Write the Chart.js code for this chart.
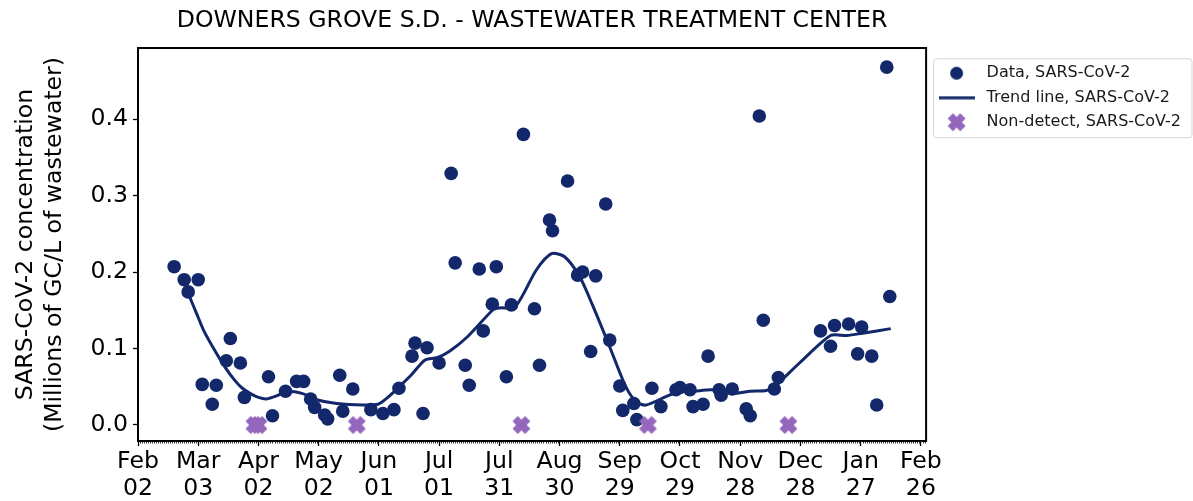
<!DOCTYPE html>
<html>
<head>
<meta charset="utf-8">
<title>Downers Grove S.D. - SARS-CoV-2</title>
<script src="https://cdn.jsdelivr.net/npm/chart.js@4.4.1/dist/chart.umd.min.js"></script>
<style>
  html, body { margin: 0; padding: 0; background: #fff; }
  canvas { display: block; }
</style>
</head>
<body>
<canvas id="wastewaterChart" width="1193" height="501"></canvas>
<script>
// x values are days counted from 2024-02-02
var sampleDays = [18, 23, 25, 30, 32, 37, 39, 44, 46, 51, 53, 65, 67, 73.5, 79, 82.5, 86, 88, 93, 94.5,
  100.5, 102, 107, 116, 122, 127.5, 130, 136.5, 138, 142, 144, 150, 156, 158, 163, 165, 170, 172, 176.5, 178.5,
  183.5, 186, 192, 197.5, 200, 205, 206.5, 214, 219, 221.5, 225.5, 228, 233, 235, 240, 241.5, 247, 248.5, 256, 260.5,
  268, 270, 275, 276.5, 281.5, 284, 289.5, 290.5, 296, 303, 305, 309.5, 311.5, 317, 319, 340, 345, 347, 354, 358.5,
  360.5, 365.5, 368, 373, 374.5];
var sampleValues = [0.207, 0.190, 0.174, 0.190, 0.053, 0.027, 0.052, 0.084, 0.113, 0.081, 0.036, 0.063, 0.012, 0.044, 0.057, 0.057, 0.034, 0.023, 0.013, 0.008,
  0.065, 0.018, 0.047, 0.020, 0.015, 0.020, 0.048, 0.090, 0.107, 0.015, 0.101, 0.081, 0.329, 0.212, 0.078, 0.052, 0.204, 0.123, 0.158, 0.207,
  0.063, 0.157, 0.380, 0.152, 0.078, 0.268, 0.254, 0.319, 0.196, 0.200, 0.096, 0.195, 0.289, 0.111, 0.051, 0.019, 0.028, 0.007, 0.048, 0.024,
  0.046, 0.049, 0.046, 0.024, 0.027, 0.090, 0.046, 0.039, 0.047, 0.021, 0.012, 0.404, 0.137, 0.047, 0.062, 0.123, 0.103, 0.130, 0.132, 0.093,
  0.128, 0.090, 0.026, 0.468, 0.168];

var trendDays = [25, 29, 33, 39, 43.5, 48, 52, 56, 60, 64, 69, 74, 82, 89, 99, 112, 119.5, 124, 130.5, 136,
  143, 149, 155, 164, 177, 180, 188, 198.5, 206, 212.5, 220, 226.7, 235, 243, 248.3, 253, 263, 270, 276, 286,
  296, 305, 313, 317, 329.5, 345, 353, 361, 375];
var trendValues = [0.172, 0.147, 0.122, 0.094, 0.075, 0.059, 0.048, 0.041, 0.036, 0.034, 0.038, 0.044, 0.041, 0.033, 0.028, 0.026, 0.027, 0.035, 0.051, 0.065,
  0.085, 0.088, 0.096, 0.115, 0.151, 0.153, 0.155, 0.203, 0.224, 0.220, 0.194, 0.155, 0.102, 0.050, 0.030, 0.026, 0.037, 0.044, 0.044, 0.046,
  0.041, 0.044, 0.045, 0.050, 0.081, 0.117, 0.117, 0.120, 0.126];

var nonDetectDays = [58, 60, 109, 191, 254, 324];
var nonDetectValues = [0, 0, 0, 0, 0, 0];

var xTickDays = [0, 30, 60, 90, 120, 150, 180, 210, 240, 270, 300, 330, 360, 390];
var xTickLabels = [['Feb', '02'], ['Mar', '03'], ['Apr', '02'], ['May', '02'], ['Jun', '01'], ['Jul', '01'], ['Jul', '31'],
  ['Aug', '30'], ['Sep', '29'], ['Oct', '29'], ['Nov', '28'], ['Dec', '28'], ['Jan', '27'], ['Feb', '26']];
var yTickValues = [0, 0.1, 0.2, 0.3, 0.4];

var navy = '#13286a';
var purple = '#9467bd';
var fontFamily = "'DejaVu Sans', sans-serif";

function toPoints(xs, ys) {
  return xs.map(function(x, i) { return { x: x, y: ys[i] }; });
}

// little marker images (used for the legend and for the X marker)
function makeDot(r) {
  var c = document.createElement('canvas');
  c.width = c.height = r * 2 + 2;
  var g = c.getContext('2d');
  g.fillStyle = navy;
  g.beginPath();
  g.arc(r + 1, r + 1, r, 0, Math.PI * 2);
  g.fill();
  return c;
}
function makeLine(w) {
  var c = document.createElement('canvas');
  c.width = w; c.height = 4;
  var g = c.getContext('2d');
  g.strokeStyle = navy;
  g.lineWidth = 3;
  g.beginPath();
  g.moveTo(0, 2); g.lineTo(w, 2);
  g.stroke();
  return c;
}
function makeX(s) {
  var c = document.createElement('canvas');
  c.width = c.height = s;
  var g = c.getContext('2d');
  g.strokeStyle = purple;
  g.lineWidth = s * 0.36;
  g.lineCap = 'butt';
  var a = s * 0.2, b = s * 0.8;
  g.beginPath();
  g.moveTo(a, a); g.lineTo(b, b);
  g.moveTo(b, a); g.lineTo(a, b);
  g.stroke();
  return c;
}
var dotMark = makeDot(6.5);
var lineMark = makeLine(36);
var xMark = makeX(21);
var legendMarks = [dotMark, lineMark, xMark];

var framePlugin = {
  id: 'frame',
  beforeDraw: function(chart) {
    var lg = chart.legend;
    if (!lg || !lg.legendHitBoxes || !lg.legendHitBoxes.length) return;
    var hb = lg.legendHitBoxes;
    var first = hb[0], last = hb[hb.length - 1];
    var x0 = lg.left + 7, x1 = chart.width - 1.5;
    var y0 = first.top + first.height / 2 - 15;
    var y1 = last.top + last.height / 2 + 15;
    var ctx = chart.ctx;
    ctx.save();
    ctx.fillStyle = '#fff';
    ctx.strokeStyle = '#d6d6d6';
    ctx.lineWidth = 1;
    ctx.beginPath();
    ctx.roundRect(x0 + 0.5, y0 + 0.5, x1 - x0, y1 - y0, 3);
    ctx.fill();
    ctx.stroke();
    ctx.restore();
  },
  afterDraw: function(chart) {
    var a = chart.chartArea, ctx = chart.ctx, xs = chart.scales.x;
    ctx.save();
    // minor day ticks on the x axis
    ctx.strokeStyle = '#000';
    ctx.lineWidth = 0.8;
    ctx.beginPath();
    for (var d = 1; d < xs.max; d++) {
      if (d % 30 === 0) continue;
      var px = Math.round(xs.getPixelForValue(d)) + 0.5;
      ctx.moveTo(px, a.bottom);
      ctx.lineTo(px, a.bottom + 2.5);
    }
    ctx.stroke();
    ctx.lineWidth = 2;
    ctx.strokeRect(a.left, a.top, a.right - a.left, a.bottom - a.top);
    ctx.restore();
  }
};

var ctx = document.getElementById('wastewaterChart').getContext('2d');
var chart = new Chart(ctx, {
  type: 'scatter',
  data: {
    datasets: [
      {
        label: 'Data, SARS-CoV-2',
        data: toPoints(sampleDays, sampleValues),
        backgroundColor: navy,
        borderWidth: 0,
        pointRadius: 6.8,
        pointStyle: 'circle',
        order: 3
      },
      {
        label: 'Trend line, SARS-CoV-2',
        type: 'line',
        data: toPoints(trendDays, trendValues),
        borderColor: navy,
        borderWidth: 3,
        pointRadius: 0,
        tension: 0.25,
        fill: false,
        order: 2
      },
      {
        label: 'Non-detect, SARS-CoV-2',
        data: toPoints(nonDetectDays, nonDetectValues),
        pointStyle: xMark,
        pointRadius: 9,
        order: 1
      }
    ]
  },
  options: {
    responsive: false,
    animation: false,
    events: [],
    layout: { padding: { left: 0, right: 2, top: 0, bottom: 0 } },
    plugins: {
      title: {
        display: true,
        text: 'DOWNERS GROVE S.D. - WASTEWATER TREATMENT CENTER',
        fullSize: false,
        color: '#000',
        font: { family: fontFamily, size: 23.6, weight: 'normal' },
        padding: { top: 7, bottom: 12.7 }
      },
      legend: {
        position: 'right',
        align: 'start',
        fullSize: false,
        title: { display: true, text: '', font: { size: 1 }, padding: { top: 7.5, bottom: 0 } },
        labels: {
          usePointStyle: true,
          pointStyleWidth: 44,
          padding: 8.5,
          color: '#1a1a1a',
          font: { family: fontFamily, size: 16 },
          sort: function(a, b) { return a.datasetIndex - b.datasetIndex; },
          generateLabels: function(c) {
            var items = Chart.defaults.plugins.legend.labels.generateLabels(c);
            items.forEach(function(it) { it.pointStyle = legendMarks[it.datasetIndex]; });
            return items;
          }
        }
      },
      tooltip: { enabled: false }
    },
    scales: {
      x: {
        type: 'linear',
        min: 0,
        max: 392.6,
        afterBuildTicks: function(s) { s.ticks = xTickDays.map(function(v) { return { value: v }; }); },
        afterFit: function(s) { s.height = 60; },
        border: { display: false },
        grid: { display: true, drawOnChartArea: false, drawTicks: true, tickLength: 5, tickColor: '#000', tickWidth: 1.3 },
        ticks: {
          autoSkip: false,
          maxRotation: 0,
          padding: 3,
          color: '#000',
          font: { family: fontFamily, size: 23.6, lineHeight: 1.12 },
          callback: function(v) { return xTickLabels[xTickDays.indexOf(v)]; }
        }
      },
      y: {
        type: 'linear',
        min: -0.021,
        max: 0.493,
        afterBuildTicks: function(s) { s.ticks = yTickValues.map(function(v) { return { value: v }; }); },
        afterFit: function(s) { s.width = 138; },
        border: { display: false },
        grid: { display: true, drawOnChartArea: false, drawTicks: true, tickLength: 5, tickColor: '#000', tickWidth: 1.3 },
        ticks: {
          padding: 5,
          color: '#000',
          font: { family: fontFamily, size: 23.6 },
          callback: function(v) { return v.toFixed(1); }
        },
        title: {
          display: true,
          text: ['SARS-CoV-2 concentration', '(Millions of GC/L of wastewater)'],
          color: '#000',
          font: { family: fontFamily, size: 23.6, lineHeight: 1.2 },
          padding: { top: 12, bottom: 0 }
        }
      }
    }
  },
  plugins: [framePlugin]
});
</script>
</body>
</html>
